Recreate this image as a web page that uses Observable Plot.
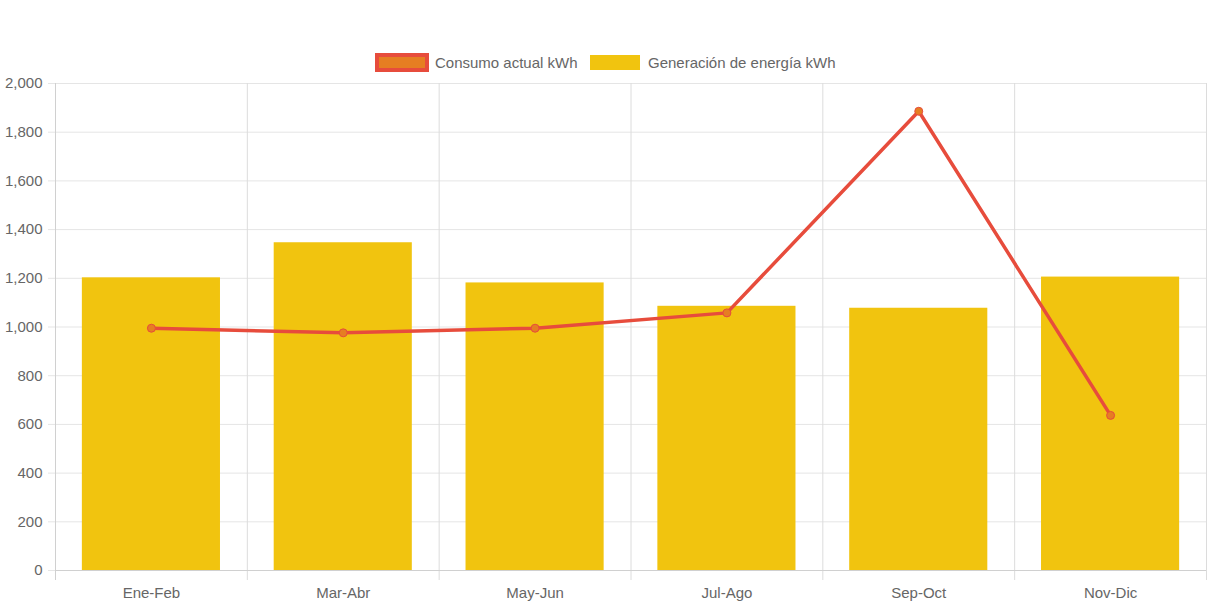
<!DOCTYPE html>
<html>
<head>
<meta charset="utf-8">
<script src="https://cdn.jsdelivr.net/npm/d3@7"></script>
<script src="https://cdn.jsdelivr.net/npm/@observablehq/plot@0.6"></script>
<style>
  html, body { margin: 0; padding: 0; background: #fff; }
  body { width: 1213px; height: 606px; overflow: hidden; font-family: "Liberation Sans", Arial, sans-serif; }
  #legend { position: relative; height: 75px; width: 1213px; }
  .item { position: absolute; display: flex; align-items: center; color: #666; font-size: 15px; }
  .box { box-sizing: border-box; }
  #chart svg { display: block; }
</style>
</head>
<body>
<div id="legend"></div>
<div id="chart"></div>
<script>
const categories = ["Ene-Feb", "Mar-Abr", "May-Jun", "Jul-Ago", "Sep-Oct", "Nov-Dic"];
const consumo = [995, 976, 995, 1058, 1886, 637];
const generacion = [1202, 1346, 1181, 1085, 1077, 1205];
const yTicks = [0, 200, 400, 600, 800, 1000, 1200, 1400, 1600, 1800, 2000];
const seriesNames = ["Consumo actual kWh", "Generación de energía kWh"];

const lineColor = "#e74c3c";
const pointFill = "#e67e22";
const barColor = "#f1c40f";

// legend
const legend = document.getElementById("legend");
legend.innerHTML = `
  <div class="item" style="left:375px; top:53px; height:19px;">
    <div class="box" style="width:54px;height:19px;background:${pointFill};border:4px solid ${lineColor};"></div>
    <span style="margin-left:6px;">${seriesNames[0]}</span>
  </div>
  <div class="item" style="left:590px; top:53px; height:19px;">
    <div class="box" style="width:50px;height:15px;background:${barColor};"></div>
    <span style="margin-left:8px;">${seriesNames[1]}</span>
  </div>`;

const data = categories.map((c, i) => ({cat: c, consumo: consumo[i], generacion: generacion[i]}));

const width = 1213, height = 531;
const marginLeft = 55, marginRight = 7, marginTop = 8, marginBottom = 36;
const step = (width - marginLeft - marginRight) / categories.length;
const inset = step * 0.14;

const chart = Plot.plot({
  width, height, marginLeft, marginRight, marginTop, marginBottom,
  style: {fontFamily: "'Liberation Sans', Arial, sans-serif", fontSize: "15px", color: "#666", background: "#fff"},
  x: {domain: categories, padding: 0, round: false, label: null},
  y: {domain: [0, 2000], label: null},
  marks: [
    Plot.gridY(yTicks, {stroke: "#e5e5e5", strokeOpacity: 1}),
    Plot.ruleX(categories, {x: d => d, dx: -step / 2, stroke: "#dcdcdc", insetBottom: -10}),
    Plot.ruleX([categories[categories.length - 1]], {x: d => d, dx: step / 2, stroke: "#dcdcdc", insetBottom: -10}),
    Plot.barY(data, {x: "cat", y: "generacion", fill: barColor, insetLeft: inset, insetRight: inset}),
    Plot.ruleY([0], {stroke: "#d0d0d0"}),
    Plot.ruleX([categories[0]], {x: d => d, dx: -step / 2, stroke: "#d0d0d0", insetBottom: -10}),
    Plot.axisY(yTicks, {tickSize: 7, tickPadding: 6, stroke: "#e5e5e5", fill: "#666", tickFormat: d3.format(","), fontSize: 15}),
    Plot.axisX(categories, {tickSize: 0, tickPadding: 17, fill: "#666", fontSize: 15}),
    Plot.line(data, {x: "cat", y: "consumo", stroke: lineColor, strokeWidth: 3.5}),
    Plot.dot(data, {x: "cat", y: "consumo", r: 4, fill: pointFill, stroke: lineColor, strokeWidth: 1})
  ]
});
document.getElementById("chart").appendChild(chart);
</script>
</body>
</html>
